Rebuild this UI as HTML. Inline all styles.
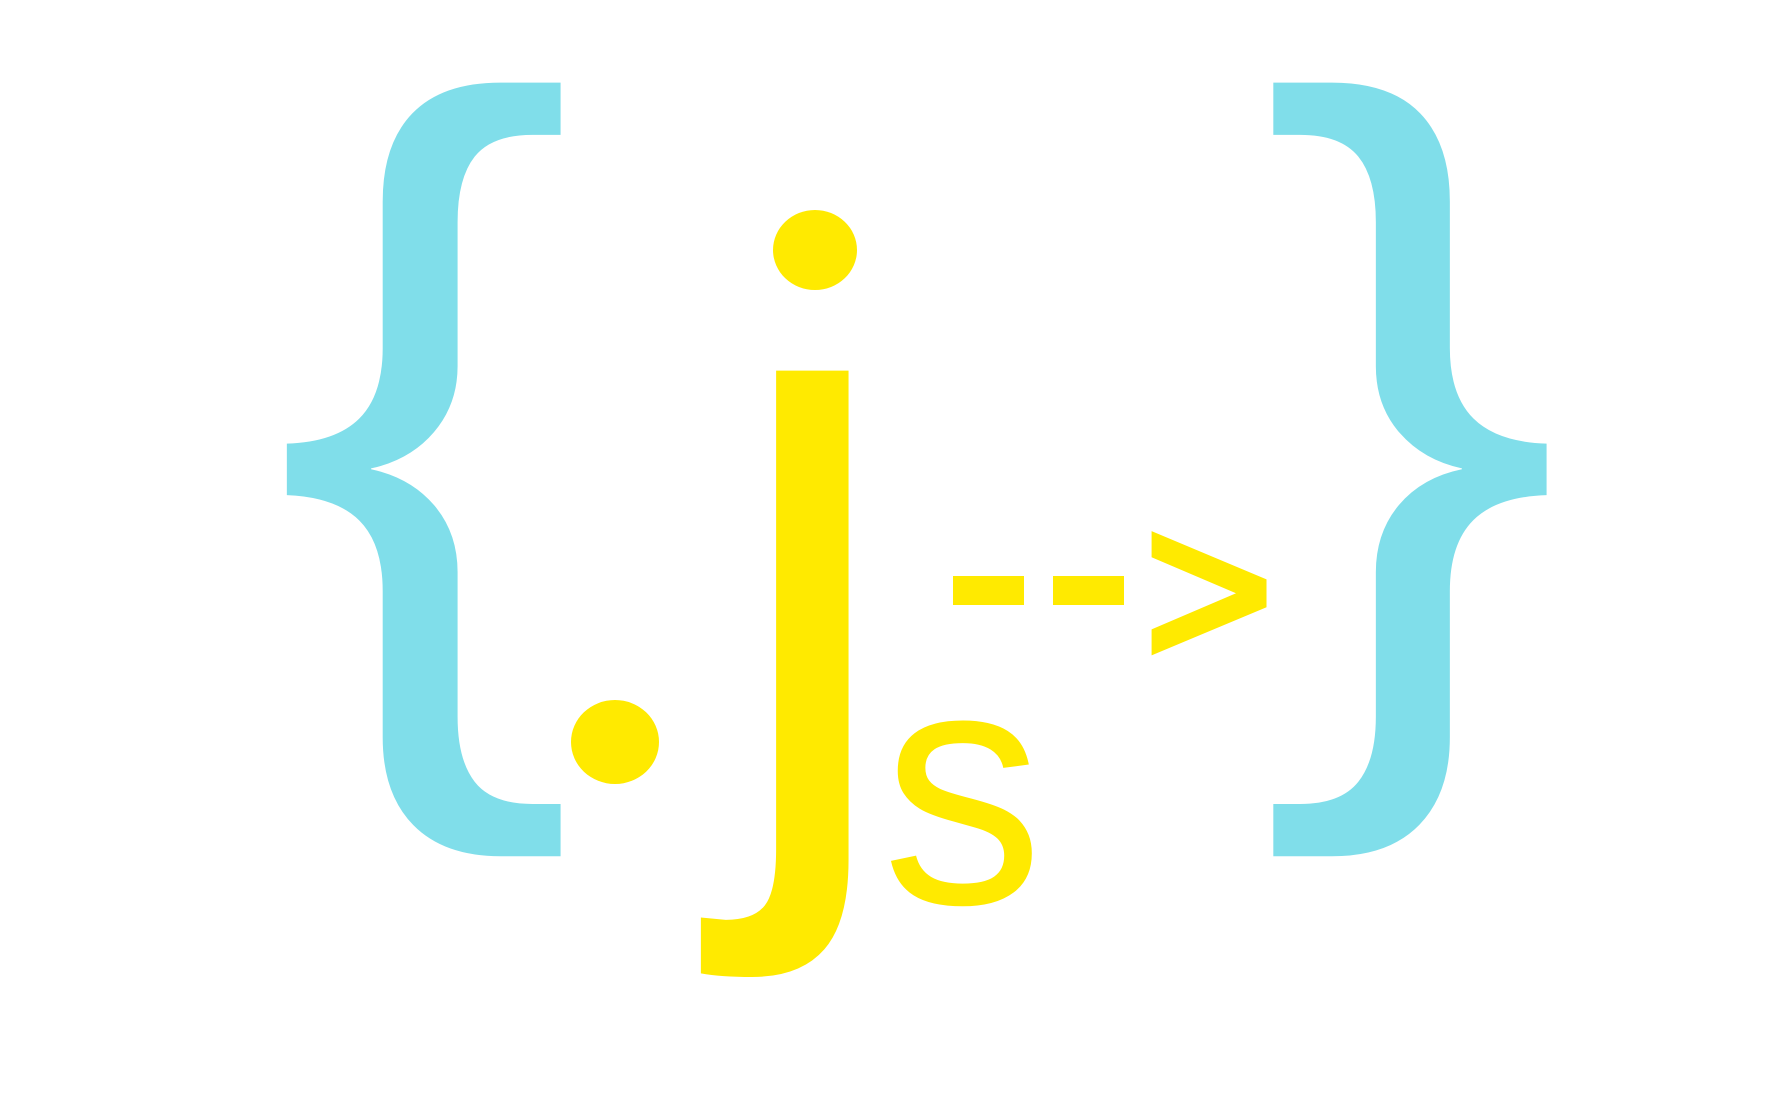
<!DOCTYPE html>
<html><head><style>html,body{margin:0;padding:0;background:#fff}svg{display:block}</style></head>
<body>
<svg width="1772" height="1106" viewBox="0 0 1772 1106" xmlns="http://www.w3.org/2000/svg" font-family="Liberation Sans, sans-serif">
<text x="247" y="684" font-size="830" fill="#80DEEA" transform="scale(1.1 1)">{</text>
<text x="1421" y="684" font-size="830" fill="#80DEEA" text-anchor="end" transform="scale(1.1 1)">}</text>
<text x="540" y="772" font-size="545" fill="#FFEA00">.</text>
<ellipse cx="615" cy="742" rx="44" ry="42" fill="#FFEA00"/>
<text x="721" y="806" font-size="824" fill="#FFEA00">ȷ</text>
<ellipse cx="815" cy="250" rx="42" ry="40" fill="#FFEA00"/>
<text x="882" y="903" font-size="340" fill="#FFEA00" transform="translate(882 0) scale(0.95 1) translate(-882 0)">s</text>
<text x="988" y="640" font-size="200" fill="#FFEA00" text-anchor="middle">-</text>
<text x="1088" y="640" font-size="200" fill="#FFEA00" text-anchor="middle">-</text>
<rect x="953" y="576" width="71" height="29" fill="#FFEA00"/>
<rect x="1053" y="576" width="71" height="29" fill="#FFEA00"/>
<text x="1209" y="665" font-size="218" fill="#FFEA00" stroke="#FFEA00" stroke-width="9" stroke-linejoin="miter" text-anchor="middle">&gt;</text>
</svg>
</body></html>
